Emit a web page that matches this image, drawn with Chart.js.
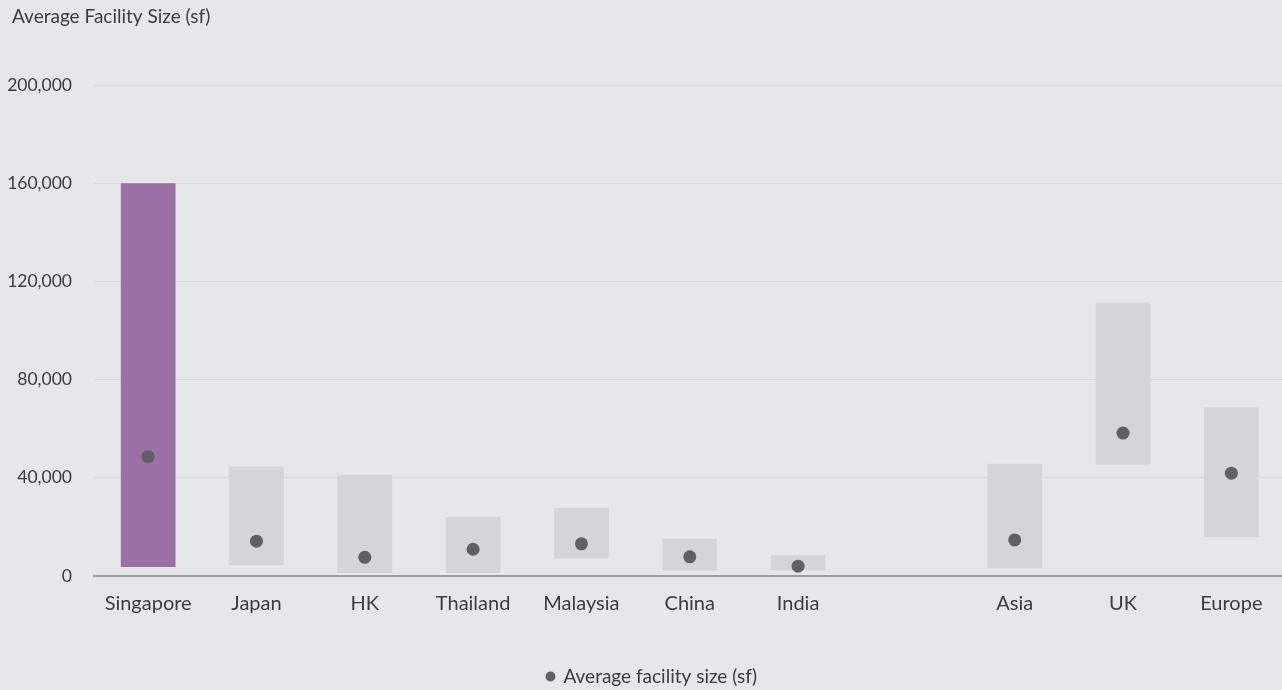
<!DOCTYPE html>
<html>
<head>
<meta charset="utf-8">
<script src="https://cdn.jsdelivr.net/npm/chart.js@4/dist/chart.umd.min.js"></script>
<style>
  html, body { margin: 0; padding: 0; background: #e6e7e9; overflow: hidden; }
  #wrap { position: absolute; left: 0; top: 0; width: 1292px; height: 690px; }
</style>
</head>
<body>
<div id="wrap"><canvas id="c" width="1292" height="690"></canvas></div>
<script>
const categories = ["Singapore", "Japan", "HK", "Thailand", "Malaysia", "China", "India", "", "Asia", "UK", "Europe"];
const rangeLow  = [3700, 4400, 1200, 1200, 7100, 2200, 2200, null, 3300, 45300, 15800];
const rangeHigh = [160000, 44600, 41200, 24000, 27800, 15200, 8600, null, 45700, 111400, 68600];
const averageSize = [48600, 14200, 7600, 10900, 13100, 7800, 4000, null, 14700, 58200, 41900];
const yTicks = [0, 40000, 80000, 120000, 160000, 200000];

const rangeData = categories.map((c, i) => rangeLow[i] == null ? null : [rangeLow[i], rangeHigh[i]]);
const barColors = categories.map(c => c === "Singapore" ? "#9a70a6" : "#d4d5d7");

const FONT = "Lato, 'Source Sans Pro', 'Open Sans', sans-serif";
const TXT = "#3c3c3c";

// let the y tick labels use the space left of the layout padding (no clipping)
const unclipY = {
  id: "unclipY",
  afterLayout(chart) { chart.scales.y.left = 0; }
};

new Chart(document.getElementById("c"), {
  data: {
    labels: categories,
    datasets: [
      {
        type: "line",
        label: "Average facility size (sf)",
        data: averageSize,
        showLine: false,
        pointRadius: 6.5,
        pointHoverRadius: 6.5,
        pointBackgroundColor: "#5f6062",
        pointBorderWidth: 0,
        borderColor: "#5f6062",
        backgroundColor: "#5f6062",
        order: 0
      },
      {
        type: "bar",
        label: "Range",
        data: rangeData,
        backgroundColor: barColors,
        borderWidth: 0,
        borderSkipped: false,
        categoryPercentage: 1,
        barPercentage: 0.505,
        order: 1
      }
    ]
  },
  plugins: [unclipY],
  options: {
    responsive: false,
    devicePixelRatio: 1,
    animation: false,
    layout: { padding: { left: 12, right: 0, top: 0, bottom: -6 } },
    plugins: {
      title: {
        display: true,
        text: "Average Facility Size (sf)",
        align: "start",
        color: TXT,
        font: { family: FONT, size: 19, weight: "normal" },
        padding: { top: 5.6, bottom: 56.6 }
      },
      legend: {
        position: "bottom",
        labels: {
          filter: (item) => item.datasetIndex === 0,
          usePointStyle: true,
          pointStyle: "circle",
          boxWidth: 7,
          boxHeight: 7,
          color: TXT,
          font: { family: FONT, size: 19 },
          padding: 0
        }
      },
      tooltip: { enabled: false }
    },
    scales: {
      x: {
        grid: { display: false, drawTicks: false },
        border: { display: true, color: "#9d9e9f", width: 2 },
        afterFit: (scale) => { scale.height = 91; },
        ticks: { color: TXT, font: { family: FONT, size: 20 }, padding: 16, maxRotation: 0, autoSkip: false }
      },
      y: {
        min: 0,
        max: 200000,
        afterBuildTicks: (scale) => { scale.ticks = yTicks.map(v => ({ value: v })); },
        afterFit: (scale) => { scale.width = 82; },
        grid: { color: "#d7d8da", lineWidth: 1, drawTicks: false },
        border: { display: false },
        ticks: {
          color: TXT,
          font: { family: FONT, size: 17.5 },
          padding: 22,
          callback: (v) => Number(v).toLocaleString("en-US")
        }
      }
    }
  }
});
</script>
</body>
</html>
